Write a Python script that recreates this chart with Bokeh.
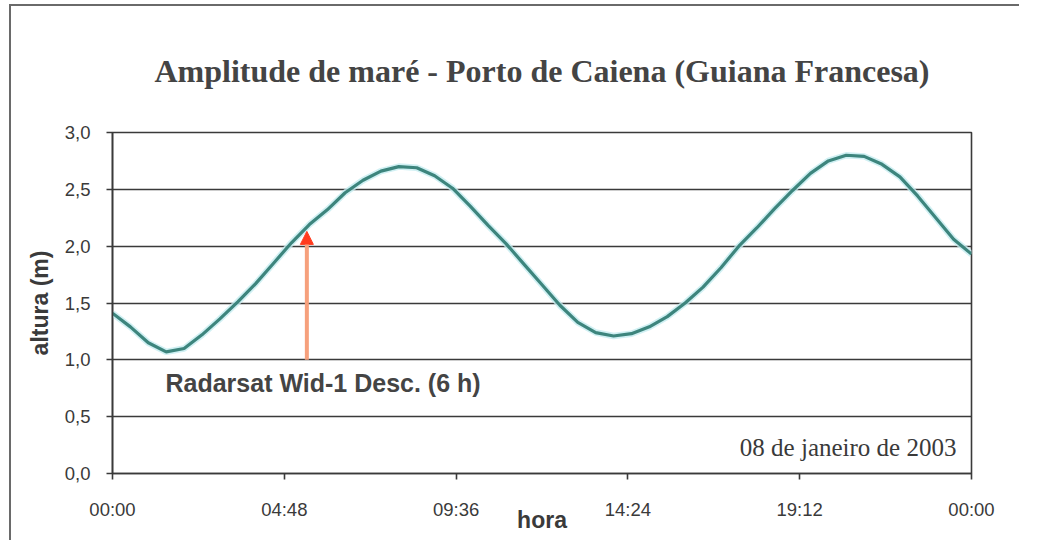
from bokeh.plotting import figure
from bokeh.models import FixedTicker, Arrow, NormalHead, Label, Range1d
from bokeh.embed import file_html
from bokeh.resources import INLINE

# ---- data ----
hours = [0.0, 0.5, 1.0, 1.5, 2.0, 2.5, 3.0, 3.5, 4.0, 4.5, 5.0, 5.5, 6.0, 6.5,
         7.0, 7.5, 8.0, 8.5, 9.0, 9.5, 10.0, 10.5, 11.0, 11.5, 12.0, 12.5,
         13.0, 13.5, 14.0, 14.5, 15.0, 15.5, 16.0, 16.5, 17.0, 17.5, 18.0,
         18.5, 19.0, 19.5, 20.0, 20.5, 21.0, 21.5, 22.0, 22.5, 23.0, 23.5, 24.0]
altura = [1.41, 1.29, 1.15, 1.07, 1.10, 1.22, 1.36, 1.51, 1.67, 1.85, 2.03,
          2.19, 2.32, 2.47, 2.58, 2.66, 2.70, 2.69, 2.62, 2.51, 2.35, 2.18,
          2.02, 1.84, 1.66, 1.48, 1.33, 1.24, 1.21, 1.23, 1.29, 1.38, 1.50,
          1.64, 1.81, 2.00, 2.16, 2.33, 2.49, 2.64, 2.75, 2.80, 2.79, 2.72,
          2.61, 2.44, 2.25, 2.06, 1.93]
x_ticks = [0.0, 4.8, 9.6, 14.4, 19.2, 24.0]
x_tick_labels = ["00:00", "04:48", "09:36", "14:24", "19:12", "00:00"]
y_ticks = [0.0, 0.5, 1.0, 1.5, 2.0, 2.5, 3.0]
y_tick_labels = ["0,0", "0,5", "1,0", "1,5", "2,0", "2,5", "3,0"]

pass_hour = 5.43          # arrow position (hours)
arrow_from, arrow_to = 1.0, 2.13
pass_label = "Radarsat Wid-1 Desc. (6 h)"
date_label = "08 de janeiro de 2003"
title_text = "Amplitude de maré - Porto de Caiena (Guiana Francesa)"

TXT = "#3a3a3a"
GRID = "#3a3a3a"

p = figure(width=1010, height=536, output_backend="svg", toolbar_location=None,
           x_range=Range1d(0, 24), y_range=Range1d(0, 3),
           min_border_left=101, min_border_right=50, min_border_top=126,
           min_border_bottom=69,
           styles={"border-top": "2px solid #6a6a6a", "border-left": "2px solid #6a6a6a",
                   "margin-left": "9px", "margin-top": "4px"})

p.title.text = title_text
p.title.text_font = "Liberation Serif"
p.title.text_font_size = "32px"
p.title.text_font_style = "bold"
p.title.text_color = "#444444"
p.title.align = "center"
p.title.standoff = 87

p.outline_line_color = GRID
p.outline_line_width = 1.6
p.background_fill_color = "white"
p.border_fill_color = "white"

# axes
p.xaxis.ticker = FixedTicker(ticks=x_ticks)
p.xaxis.major_label_overrides = dict(zip(x_ticks, x_tick_labels))
p.yaxis.ticker = FixedTicker(ticks=y_ticks)
p.yaxis.major_label_overrides = dict(zip(y_ticks, y_tick_labels))
for ax in (p.xaxis, p.yaxis):
    ax.axis_line_color = GRID
    ax.axis_line_width = 1.6
    ax.major_tick_line_color = GRID
    ax.major_tick_line_width = 1.6
    ax.major_tick_in = 0
    ax.major_tick_out = 6
    ax.minor_tick_line_color = None
    ax.major_label_text_font = "Liberation Sans"
    ax.major_label_text_font_size = "18.5px"
    ax.major_label_text_color = TXT
    ax.axis_label_text_font = "Liberation Sans"
    ax.axis_label_text_font_size = "23px"
    ax.axis_label_text_font_style = "bold"
    ax.axis_label_text_color = TXT
p.yaxis.major_label_standoff = 16
p.xaxis.major_label_standoff = 19
p.xaxis.axis_label = "hora"
p.xaxis.axis_label_standoff = -16
p.yaxis.axis_label = "altura (m)"
p.yaxis.axis_label_standoff = 9

p.xgrid.grid_line_color = None
p.ygrid.ticker = FixedTicker(ticks=y_ticks)
p.ygrid.grid_line_color = GRID
p.ygrid.grid_line_width = 1.6

# tide curve (with light halo)
p.line(hours, altura, line_color="#c4ecf0", line_width=6.5, line_alpha=0.8)
p.line(hours, altura, line_color="#3d857d", line_width=3.2)

# satellite pass arrow
p.add_layout(Arrow(x_start=pass_hour, y_start=arrow_from, x_end=pass_hour, y_end=arrow_to,
                   line_color="#f6a07c", line_width=4,
                   end=NormalHead(size=13, fill_color="#ff3b1e", line_color="#ff3b1e")))

p.add_layout(Label(x=1.48, y=0.80, text=pass_label, text_align="left",
                   text_baseline="middle", text_font="Liberation Sans",
                   text_font_size="25px", text_font_style="bold", text_color="#444444"))
p.add_layout(Label(x=23.58, y=0.23, text=date_label, text_align="right",
                   text_baseline="middle", text_font="Liberation Serif",
                   text_font_size="25px", text_color=TXT))

open("out.html", "w").write(file_html(p, INLINE))
